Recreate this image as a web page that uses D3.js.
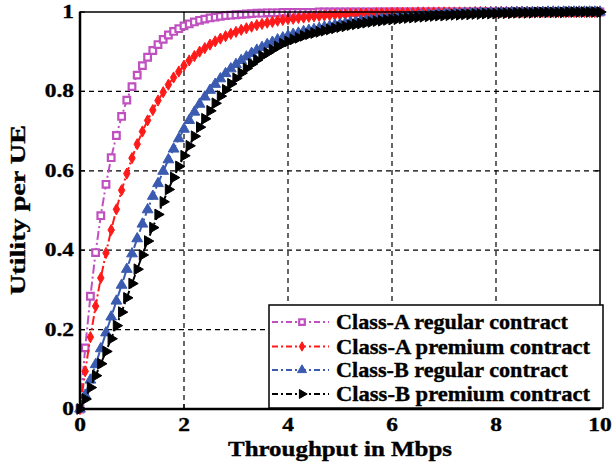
<!DOCTYPE html>
<html>
<head>
<meta charset="utf-8">
<script src="https://cdn.jsdelivr.net/npm/d3@7"></script>
<style>
  html, body { margin: 0; padding: 0; background: #fff; }
  svg { display: block; }
  text { font-family: "Liberation Serif", "Times New Roman", serif; font-weight: bold; fill: #000; stroke: #000; stroke-width: 0.35; }
</style>
</head>
<body>
<svg id="chart" width="616" height="464"></svg>
<script>
// Throughput samples (Mbps), one every 0.1 from 0 to 10
const throughput = d3.range(101).map(i => +(i / 10).toFixed(1));

// Utility per UE for each user class / contract type
const classARegular = [
  0, 0.154, 0.284, 0.394, 0.487, 0.566, 0.633, 0.689, 0.737, 0.778,
  0.812, 0.841, 0.865, 0.886, 0.903, 0.918, 0.931, 0.942, 0.951, 0.958,
  0.965, 0.970, 0.975, 0.979, 0.982, 0.985, 0.987, 0.989, 0.991, 0.992,
  0.993, 0.994, 0.995, 0.996, 0.997, 0.997, 0.998, 0.998, 0.998, 0.999,
  0.999, 0.999, 0.999, 0.999, 0.999, 0.999, 1, 1, 1, 1,
  1, 1, 1, 1, 1, 1, 1, 1, 1, 1,
  1, 1, 1, 1, 1, 1, 1, 1, 1, 1,
  1, 1, 1, 1, 1, 1, 1, 1, 1, 1,
  1, 1, 1, 1, 1, 1, 1, 1, 1, 1,
  1, 1, 1, 1, 1, 1, 1, 1, 1, 1,
  1
];

const classAPremium = [
  0, 0.095, 0.181, 0.259, 0.330, 0.393, 0.451, 0.503, 0.551, 0.593,
  0.632, 0.667, 0.699, 0.727, 0.753, 0.777, 0.798, 0.817, 0.835, 0.850,
  0.865, 0.878, 0.889, 0.900, 0.909, 0.918, 0.926, 0.933, 0.939, 0.945,
  0.950, 0.955, 0.959, 0.963, 0.967, 0.970, 0.973, 0.975, 0.978, 0.980,
  0.982, 0.983, 0.985, 0.986, 0.988, 0.989, 0.990, 0.991, 0.992, 0.993,
  0.993, 0.994, 0.995, 0.995, 0.996, 0.996, 0.996, 0.997, 0.997, 0.997,
  0.998, 0.998, 0.998, 0.998, 0.998, 0.999, 0.999, 0.999, 0.999, 0.999,
  0.999, 0.999, 0.999, 0.999, 0.999, 0.999, 1, 1, 1, 1,
  1, 1, 1, 1, 1, 1, 1, 1, 1, 1,
  1, 1, 1, 1, 1, 1, 1, 1, 1, 1,
  1
];

const classBRegular = [
  0, 0.035, 0.073, 0.112, 0.152, 0.192, 0.232, 0.272, 0.312, 0.352,
  0.391, 0.429, 0.466, 0.502, 0.536, 0.568, 0.599, 0.628, 0.655, 0.681,
  0.705, 0.727, 0.748, 0.768, 0.786, 0.803, 0.818, 0.832, 0.845, 0.857,
  0.868, 0.878, 0.887, 0.896, 0.904, 0.911, 0.918, 0.924, 0.930, 0.935,
  0.940, 0.944, 0.947, 0.951, 0.954, 0.956, 0.959, 0.962, 0.964, 0.967,
  0.969, 0.971, 0.973, 0.975, 0.977, 0.978, 0.980, 0.981, 0.983, 0.984,
  0.985, 0.986, 0.987, 0.988, 0.989, 0.990, 0.991, 0.992, 0.992, 0.993,
  0.994, 0.994, 0.995, 0.995, 0.996, 0.996, 0.997, 0.997, 0.997, 0.998,
  0.998, 0.998, 0.998, 0.999, 0.999, 0.999, 0.999, 0.999, 0.999, 0.999,
  1, 1, 1, 1, 1, 1, 1, 1, 1, 1,
  1
];

const classBPremium = [
  0, 0.025, 0.054, 0.084, 0.114, 0.145, 0.177, 0.210, 0.244, 0.280,
  0.316, 0.352, 0.388, 0.423, 0.457, 0.490, 0.522, 0.553, 0.583, 0.611,
  0.638, 0.663, 0.687, 0.710, 0.731, 0.751, 0.770, 0.788, 0.804, 0.819,
  0.833, 0.846, 0.858, 0.869, 0.879, 0.889, 0.897, 0.905, 0.913, 0.920,
  0.926, 0.931, 0.935, 0.940, 0.944, 0.947, 0.950, 0.953, 0.956, 0.959,
  0.962, 0.964, 0.967, 0.969, 0.971, 0.973, 0.975, 0.977, 0.978, 0.980,
  0.981, 0.982, 0.984, 0.985, 0.986, 0.987, 0.988, 0.989, 0.990, 0.991,
  0.991, 0.992, 0.993, 0.993, 0.994, 0.994, 0.995, 0.995, 0.996, 0.996,
  0.996, 0.997, 0.997, 0.997, 0.998, 0.998, 0.998, 0.998, 0.999, 0.999,
  0.999, 0.999, 0.999, 0.999, 1, 1, 1, 1, 1, 1,
  1
];

const seriesNames = [
  "Class-A regular contract",
  "Class-A premium contract",
  "Class-B regular contract",
  "Class-B premium contract"
];
const xTickValues = [0, 2, 4, 6, 8, 10];
const yTickValues = [0, 0.2, 0.4, 0.6, 0.8, 1];
const yTickLabels = ["0", "0.2", "0.4", "0.6", "0.8", "1"];
const xAxisTitle = "Throughput in Mbps";
const yAxisTitle = "Utility per UE";

const series = [
  { name: seriesNames[0], values: classARegular, color: "#c050c0", symbol: d3.symbolSquare, size: 44, rotate: 0, fill: "#fff" },
  { name: seriesNames[1], values: classAPremium, color: "#ff1a1a", symbol: d3.symbolDiamond, size: 36, rotate: 0, fill: "#ff1a1a" },
  { name: seriesNames[2], values: classBRegular, color: "#3a5bb0", symbol: d3.symbolTriangle, size: 50, rotate: 0, fill: "#3a5bb0" },
  { name: seriesNames[3], values: classBPremium, color: "#000000", symbol: d3.symbolTriangle, size: 50, rotate: 90, fill: "#000000" }
];

const svg = d3.select("#chart");
const margin = { left: 80, right: 16, top: 12, bottom: 55 };
const W = 616, H = 464;
const x = d3.scaleLinear().domain([0, 10]).range([margin.left, W - margin.right]);
const y = d3.scaleLinear().domain([0, 1]).range([H - margin.bottom, margin.top]);

const plot = svg.append("g");

// dashed grid
const grid = plot.append("g").attr("stroke", "#000").attr("stroke-width", 1.2).attr("stroke-dasharray", "5,4");
grid.selectAll("line.gx").data(xTickValues.slice(1, -1)).join("line")
  .attr("x1", d => x(d)).attr("x2", d => x(d))
  .attr("y1", y(0)).attr("y2", y(1));
grid.selectAll("line.gy").data(yTickValues.slice(1, -1)).join("line")
  .attr("y1", d => y(d)).attr("y2", d => y(d))
  .attr("x1", x(0)).attr("x2", x(10));

// curves with markers
const line = d3.line().x((d, i) => x(throughput[i])).y(d => y(d));
const dashDot = "9,3,2,3";

function drawMarker(sel, s) {
  sel.attr("d", d3.symbol().type(s.symbol).size(s.size)())
    .attr("fill", s.fill)
    .attr("stroke", s.color)
    .attr("stroke-width", s.fill === "#fff" ? 2.2 : 1);
}

series.forEach(s => {
  const g = plot.append("g");
  g.append("path").datum(s.values)
    .attr("d", line)
    .attr("fill", "none")
    .attr("stroke", s.color)
    .attr("stroke-width", 2)
    .attr("stroke-dasharray", dashDot);
  g.selectAll("path.m").data(s.values).join("path")
    .attr("class", "m")
    .attr("transform", (d, i) => `translate(${x(throughput[i])},${y(d)}) rotate(${s.rotate})`)
    .call(drawMarker, s);
});

// axes frame with inward ticks
const axisG = svg.append("g").attr("stroke", "#000").attr("fill", "none");
axisG.append("rect")
  .attr("x", x(0)).attr("y", y(1))
  .attr("width", x(10) - x(0)).attr("height", y(0) - y(1))
  .attr("stroke-width", 1.5);
axisG.append("line").attr("x1", x(0)).attr("x2", x(10)).attr("y1", y(0)).attr("y2", y(0)).attr("stroke-width", 2.5);
axisG.append("line").attr("x1", x(0)).attr("x2", x(0)).attr("y1", y(0)).attr("y2", y(1)).attr("stroke-width", 2.5);
const tk = 5;
xTickValues.forEach(v => {
  axisG.append("line").attr("x1", x(v)).attr("x2", x(v)).attr("y1", y(0)).attr("y2", y(0) - tk).attr("stroke-width", 1.2);
  axisG.append("line").attr("x1", x(v)).attr("x2", x(v)).attr("y1", y(1)).attr("y2", y(1) + tk).attr("stroke-width", 1.2);
});
yTickValues.forEach(v => {
  axisG.append("line").attr("x1", x(0)).attr("x2", x(0) + tk).attr("y1", y(v)).attr("y2", y(v)).attr("stroke-width", 1.2);
  axisG.append("line").attr("x1", x(10)).attr("x2", x(10) - tk).attr("y1", y(v)).attr("y2", y(v)).attr("stroke-width", 1.2);
});

// tick labels
const tickFont = 18, tickStretch = 1.3;
svg.append("g").selectAll("text").data(yTickValues).join("text")
  .attr("transform", d => `translate(${x(0) - 6},${y(d) + 6}) scale(${tickStretch},1)`)
  .attr("text-anchor", "end")
  .attr("font-size", tickFont)
  .text((d, i) => yTickLabels[i]);
svg.append("g").selectAll("text").data(xTickValues).join("text")
  .attr("transform", d => `translate(${x(d)},${y(0) + 22}) scale(${tickStretch},1)`)
  .attr("text-anchor", "middle")
  .attr("font-size", tickFont)
  .text(d => d);

// axis titles
svg.append("text")
  .attr("x", 340).attr("y", 456)
  .attr("text-anchor", "middle")
  .attr("font-size", 20)
  .attr("textLength", 224).attr("lengthAdjust", "spacingAndGlyphs")
  .text(xAxisTitle);
svg.append("text")
  .attr("transform", "translate(25,210) rotate(-90)")
  .attr("text-anchor", "middle")
  .attr("font-size", 20.5)
  .attr("textLength", 170).attr("lengthAdjust", "spacingAndGlyphs")
  .text(yAxisTitle);

// legend
const lg = svg.append("g");
lg.append("rect")
  .attr("x", 269).attr("y", 305).attr("width", 334).attr("height", 103)
  .attr("fill", "#fff").attr("stroke", "#000").attr("stroke-width", 1.5);
const rowY = [322, 346.5, 370, 394];
series.forEach((s, i) => {
  const ry = rowY[i];
  lg.append("line")
    .attr("x1", 272).attr("x2", 329).attr("y1", ry).attr("y2", ry)
    .attr("stroke", s.color).attr("stroke-width", 2).attr("stroke-dasharray", "6,3,2,3");
  lg.append("path")
    .attr("transform", `translate(302,${ry}) rotate(${s.rotate})`)
    .call(drawMarker, Object.assign({}, s, { size: s.size * 0.7 }));
  lg.append("text")
    .attr("x", 336).attr("y", ry + 7)
    .attr("font-size", 20)
    .attr("textLength", i === 1 || i === 3 ? 254 : 232).attr("lengthAdjust", "spacingAndGlyphs")
    .text(s.name);
});
</script>
</body>
</html>
